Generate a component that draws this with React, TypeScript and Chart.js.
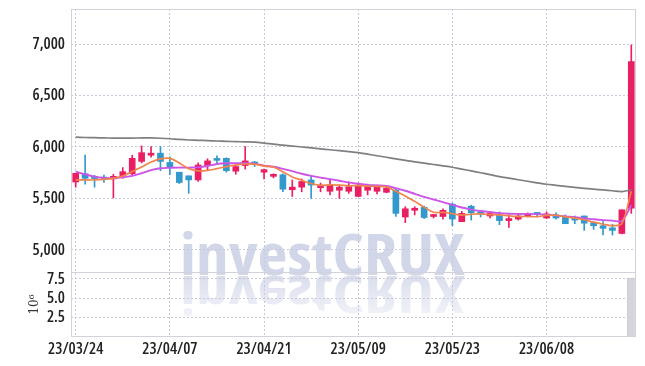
import React, { useEffect, useRef } from "react";
import { Chart, registerables } from "chart.js";

Chart.register(...registerables);

const labels = [
  "23/03/24", "23/03/27", "23/03/28", "23/03/29", "23/03/30", "23/03/31", "23/04/03", "23/04/04", "23/04/05", "23/04/06",
  "23/04/07", "23/04/10", "23/04/11", "23/04/12", "23/04/13", "23/04/14", "23/04/17", "23/04/18", "23/04/19", "23/04/20",
  "23/04/21", "23/04/24", "23/04/25", "23/04/26", "23/04/27", "23/04/28", "23/05/02", "23/05/03", "23/05/04", "23/05/08",
  "23/05/09", "23/05/10", "23/05/11", "23/05/12", "23/05/15", "23/05/16", "23/05/17", "23/05/18", "23/05/19", "23/05/22",
  "23/05/23", "23/05/24", "23/05/25", "23/05/26", "23/05/30", "23/05/31", "23/06/01", "23/06/02", "23/06/05", "23/06/07",
  "23/06/08", "23/06/09", "23/06/12", "23/06/13", "23/06/14", "23/06/15", "23/06/16", "23/06/19", "23/06/20", "23/06/21",
];

const opens = [
  5660, 5740, 5712, 5706, 5690, 5718, 5740, 5860, 5920, 5940,
  5850, 5755, 5720, 5680, 5820, 5875, 5890, 5765, 5820, 5840,
  5755, 5715, 5730, 5585, 5610, 5680, 5605, 5570, 5580, 5570,
  5520, 5580, 5570, 5560, 5580, 5320, 5385, 5415, 5325, 5325,
  5445, 5275, 5425, 5370, 5330, 5340, 5285, 5300, 5330, 5355,
  5310, 5340, 5325, 5295, 5330, 5265, 5235, 5215, 5160, 5405,
];
const highs = [
  5745, 5922, 5725, 5728, 5735, 5800, 5920, 6010, 6005, 6005,
  5905, 5755, 5720, 5845, 5885, 5915, 5895, 5825, 6005, 5860,
  5785, 5740, 5740, 5680, 5690, 5720, 5650, 5675, 5630, 5660,
  5650, 5640, 5630, 5620, 5590, 5420, 5420, 5425, 5345, 5400,
  5455, 5375, 5435, 5380, 5375, 5370, 5340, 5350, 5360, 5365,
  5370, 5360, 5340, 5330, 5330, 5270, 5275, 5250, 5390, 6990,
];
const lows = [
  5610, 5638, 5610, 5657, 5505, 5697, 5727, 5845, 5900, 5770,
  5730, 5645, 5550, 5665, 5770, 5835, 5755, 5735, 5785, 5810,
  5690, 5700, 5565, 5520, 5565, 5500, 5565, 5535, 5500, 5550,
  5520, 5535, 5545, 5555, 5325, 5265, 5340, 5305, 5310, 5300,
  5235, 5275, 5290, 5320, 5310, 5245, 5220, 5290, 5320, 5320,
  5305, 5300, 5255, 5255, 5190, 5200, 5145, 5145, 5155, 5355,
];
const closes = [
  5745, 5696, 5693, 5688, 5715, 5760, 5890, 5945, 5940, 5860,
  5805, 5655, 5680, 5825, 5865, 5870, 5770, 5810, 5865, 5835,
  5780, 5730, 5590, 5610, 5665, 5630, 5630, 5630, 5610, 5615,
  5630, 5615, 5615, 5600, 5355, 5400, 5405, 5315, 5335, 5385,
  5300, 5355, 5360, 5350, 5355, 5285, 5305, 5330, 5350, 5345,
  5350, 5310, 5255, 5290, 5260, 5235, 5210, 5190, 5390, 6830,
];
// volume in millions of shares
const volumes = [
  0.05, 0.07, 0.04, 0.03, 0.06, 0.05, 0.09, 0.08, 0.06, 0.07,
  0.05, 0.06, 0.05, 0.07, 0.05, 0.04, 0.05, 0.04, 0.08, 0.03,
  0.04, 0.03, 0.06, 0.05, 0.04, 0.05, 0.03, 0.04, 0.04, 0.03,
  0.04, 0.03, 0.03, 0.03, 0.09, 0.06, 0.04, 0.05, 0.03, 0.04,
  0.06, 0.04, 0.05, 0.03, 0.03, 0.04, 0.04, 0.03, 0.03, 0.02,
  0.03, 0.03, 0.04, 0.03, 0.04, 0.03, 0.04, 0.04, 0.09, 7.65,
];
const ma5 = [
  5680, 5680, 5680, 5685, 5696, 5718, 5762, 5806, 5854, 5884,
  5890, 5845, 5790, 5768, 5772, 5790, 5810, 5825, 5835, 5833,
  5815, 5806, 5760, 5709, 5677, 5645, 5627, 5633, 5630, 5623,
  5625, 5620, 5617, 5612, 5570, 5525, 5472, 5416, 5366, 5365,
  5352, 5338, 5347, 5350, 5344, 5341, 5331, 5325, 5325, 5323,
  5336, 5337, 5322, 5310, 5293, 5270, 5250, 5237, 5257, 5571,
];
const ma10 = [
  5760, 5735, 5712, 5700, 5698, 5705, 5720, 5745, 5775, 5793,
  5798, 5800, 5800, 5802, 5815, 5835, 5842, 5842, 5842, 5838,
  5818, 5808, 5788, 5765, 5740, 5720, 5703, 5688, 5672, 5656,
  5643, 5632, 5627, 5622, 5600, 5575, 5545, 5515, 5490, 5465,
  5438, 5412, 5392, 5378, 5368, 5358, 5352, 5350, 5350, 5348,
  5343, 5335, 5326, 5318, 5308, 5298, 5290, 5285, 5283, 5435,
];
const ma60 = [
  6095, 6092, 6090, 6088, 6087, 6087, 6087, 6088, 6088, 6085,
  6080, 6073, 6068, 6065, 6062, 6058, 6055, 6052, 6050, 6047,
  6038, 6027, 6018, 6009, 6000, 5991, 5982, 5973, 5964, 5955,
  5945, 5930, 5915, 5900, 5885, 5870, 5855, 5843, 5830, 5817,
  5803, 5785, 5768, 5750, 5731, 5712, 5697, 5682, 5667, 5652,
  5638, 5628, 5618, 5608, 5598, 5590, 5583, 5575, 5567, 5585,
];
const priceTicks = [5000, 5500, 6000, 6500, 7000];
const volumeTicks = [2.5, 5.0, 7.5];

const UP = "#e91e63";
const DOWN = "#3399cc";
const GRID = "#c9c9dc";
const FRAME = "#d2d2da";
const FONT = "'Open Sans', sans-serif";
const TICK_FONT = { family: FONT, size: 16, weight: "600 condensed" };

const watermark = {
  id: "watermark",
  beforeDraw(chart: any) {
    const { ctx } = chart;
    const text = "investCRUX";
    ctx.save();
    ctx.font = `bold condensed 58px ${FONT}`;
    const w = ctx.measureText(text).width;
    const sx = 285 / w;
    const left = 172;
    const base = 267;
    ctx.save();
    ctx.translate(left, base);
    ctx.scale(sx, 1);
    ctx.fillStyle = "rgb(209,214,232)";
    ctx.textBaseline = "alphabetic";
    ctx.fillText(text, 0, 0);
    ctx.restore();
    ctx.save();
    ctx.translate(left, base + 1);
    ctx.scale(sx, -0.88);
    const g = ctx.createLinearGradient(0, 0, 0, -45);
    g.addColorStop(0, "rgba(209,214,232,0.8)");
    g.addColorStop(1, "rgba(209,214,232,0.3)");
    ctx.fillStyle = g;
    ctx.fillText(text, 0, 0);
    ctx.restore();
    ctx.restore();
  },
};

const frame = {
  id: "frame",
  afterDatasetsDraw(chart: any) {
    const { ctx, chartArea } = chart;
    const ys = chart.scales.y;
    ctx.save();
    ctx.strokeStyle = FRAME;
    ctx.lineWidth = 1;
    ctx.strokeRect(
      Math.round(chartArea.left) + 0.5,
      Math.round(chartArea.top) + 0.5,
      Math.round(chartArea.right - chartArea.left) - 1,
      Math.round(chartArea.bottom - chartArea.top) - 1
    );
    const sep = Math.round(ys.bottom) + 0.5;
    ctx.beginPath();
    ctx.moveTo(chartArea.left, sep);
    ctx.lineTo(chartArea.right, sep);
    ctx.stroke();
    ctx.restore();
  },
};

export default function App() {
  const ref = useRef<HTMLCanvasElement | null>(null);

  useEffect(() => {
    if (!ref.current) return;
    const colors = closes.map((c, i) => (c >= opens[i] ? UP : DOWN));
    const chart = new Chart(ref.current, {
      type: "bar",
      data: {
        labels,
        datasets: [
          {
            type: "line",
            label: "MA5",
            data: ma5,
            borderColor: "#f0844c",
            borderWidth: 1.7,
            pointRadius: 0,
            tension: 0.35,
            yAxisID: "y",
            order: 0,
          } as any,
          {
            type: "line",
            label: "MA10",
            data: ma10,
            borderColor: "#cc55e8",
            borderWidth: 1.9,
            pointRadius: 0,
            tension: 0.35,
            yAxisID: "y",
            order: 1,
          } as any,
          {
            type: "line",
            label: "MA60",
            data: ma60,
            borderColor: "#7f7f7f",
            borderWidth: 1.7,
            pointRadius: 0,
            tension: 0.35,
            yAxisID: "y",
            order: 2,
          } as any,
          {
            type: "bar",
            label: "body",
            data: opens.map((o, i) => [o, closes[i]]),
            backgroundColor: colors,
            borderWidth: 0,
            barThickness: 6,
            minBarLength: 2,
            grouped: false,
            yAxisID: "y",
            order: 3,
          } as any,
          {
            type: "bar",
            label: "wick",
            data: lows.map((l, i) => [l, highs[i]]),
            backgroundColor: colors,
            borderWidth: 0,
            barThickness: 1,
            grouped: false,
            yAxisID: "y",
            order: 4,
          } as any,
          {
            type: "bar",
            label: "volume",
            data: volumes,
            backgroundColor: "rgb(212,212,220)",
            borderColor: "rgb(190,190,200)",
            borderWidth: 1,
            barPercentage: 0.96,
            categoryPercentage: 1,
            grouped: false,
            yAxisID: "yv",
            order: 5,
          } as any,
        ],
      },
      options: {
        animation: false,
        responsive: false,
        layout: { padding: { left: 0, right: 1, top: 1, bottom: 0 } },
        plugins: { legend: { display: false }, tooltip: { enabled: false } },
        scales: {
          x: {
            type: "category",
            offset: true,
            afterFit: (s: any) => {
              s.height = 21;
              s.paddingLeft = 0;
              s.paddingRight = 0;
            },
            grid: {
              offset: false,
              drawTicks: false,
              color: (c: any) => (c.index % 10 === 0 ? GRID : "rgba(0,0,0,0)"),
            },
            border: { display: false, dash: [2, 2] },
            ticks: {
              autoSkip: false,
              maxRotation: 0,
              padding: 3,
              color: "#222",
              font: TICK_FONT,
              callback: (_v: any, i: number) => (i % 10 === 0 ? labels[i] : ""),
            },
          },
          y: {
            type: "linear",
            position: "left",
            stack: "pane",
            stackWeight: 263,
            weight: 1,
            min: 4786,
            max: 7340,
            afterBuildTicks: (s: any) => {
              s.ticks = priceTicks.map((v) => ({ value: v }));
            },
            afterFit: (s: any) => {
              s.width = 63;
              s.paddingTop = 0;
              s.paddingBottom = 0;
            },
            grid: { color: GRID, drawTicks: false },
            border: { display: false, dash: [2, 2] },
            ticks: {
              autoSkip: false,
              padding: 6,
              color: "#222",
              font: TICK_FONT,
              callback: (v: any) => Number(v).toLocaleString("en-US"),
            },
          },
          yv: {
            type: "linear",
            position: "left",
            stack: "pane",
            stackWeight: 65,
            weight: 0,
            min: 0,
            max: 8.4,
            afterBuildTicks: (s: any) => {
              s.ticks = volumeTicks.map((v) => ({ value: v }));
            },
            afterFit: (s: any) => {
              s.width = 63;
              s.paddingTop = 0;
              s.paddingBottom = 0;
            },
            grid: { color: GRID, drawTicks: false },
            border: { display: false, dash: [2, 2] },
            title: {
              display: true,
              text: "10\u2076",
              color: "#333",
              padding: { top: 20, bottom: 0 },
              font: { family: "'DejaVu Serif', serif", size: 12 },
            },
            ticks: {
              autoSkip: false,
              padding: 6,
              color: "#222",
              font: TICK_FONT,
              callback: (v: any) => Number(v).toFixed(1),
            },
          },
        },
      } as any,
      plugins: [watermark, frame],
    });
    return () => chart.destroy();
  }, []);

  return (
    <div style={{ width: 629, height: 350 }}>
      <canvas ref={ref} width={629} height={350} style={{ display: "block" }} />
    </div>
  );
}
